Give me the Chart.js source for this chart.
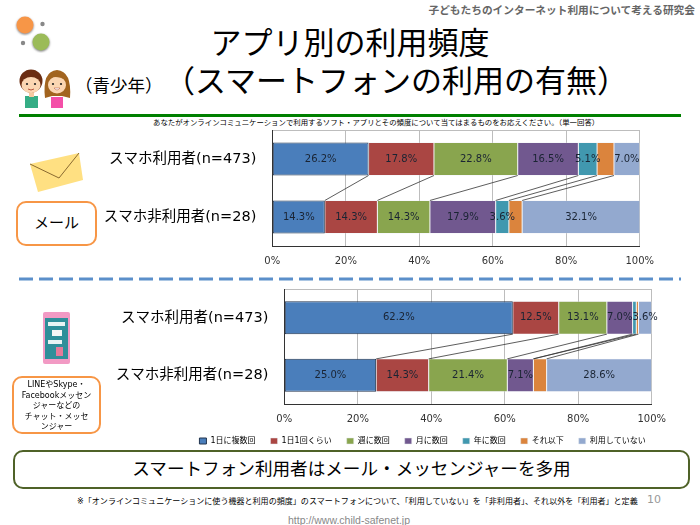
<!DOCTYPE html>
<html lang="ja">
<head>
<meta charset="UTF-8">
<title>アプリ別の利用頻度</title>
<script src="https://cdn.jsdelivr.net/npm/chart.js"></script>
<style>
    html, body { margin: 0; padding: 0; background: #fff; overflow: hidden; }
    body { width: 700px; height: 525px; position: relative; font-family: "DejaVu Sans", "Noto Sans CJK JP", sans-serif; color: #000; }
    .abs { position: absolute; white-space: nowrap; }
    canvas { position: absolute; left: 90px; }
    #mailChart { top: 125px; }
    #chatChart { top: 284px; }
    .title { left: 0; width: 700px; text-align: center; font-size: 31px; line-height: 36px; }
    .box { position: absolute; box-sizing: border-box; border: 2px solid #f79646; border-radius: 10px; text-align: center; background: #fff; }
</style>
</head>
<body>
    <div class="abs" style="right:5px;top:2px;font-size:10.700px;font-weight:bold;color:#666;">子どもたちのインターネット利用について考える研究会</div>

    <svg class="abs" style="left:0;top:0;" width="90" height="115">
        <defs><filter id="sh"><feDropShadow dx="0" dy="1" stdDeviation="1" flood-color="#777"/></filter></defs>
        <circle cx="25" cy="25" r="8.5" fill="#f79646" filter="url(#sh)"/>
        <circle cx="41" cy="42" r="8.5" fill="#9bbb59" filter="url(#sh)"/>
        <circle cx="42.500" cy="24" r="2.200" fill="#888"/>
        <circle cx="23" cy="43" r="2.200" fill="#888"/>
        <!-- boy -->
        <rect x="25" y="96" width="13" height="12" fill="#35ad85"/>
        <rect x="29" y="91" width="5" height="6" fill="#f5c9a0"/>
        <circle cx="31" cy="81" r="11.500" fill="#6b2d12"/>
        <ellipse cx="31" cy="85" rx="9.500" ry="8" fill="#fbd6b3"/>
        <circle cx="27" cy="84" r="1.100" fill="#222"/>
        <circle cx="35" cy="84" r="1.100" fill="#222"/>
        <path d="M28 89 Q31 91 34 89" stroke="#b5533c" fill="none"/>
        <!-- girl -->
        <path d="M45 98 Q42 71 57 70 Q72 71 70 98 L62 96 L52 96 Z" fill="#a2641f"/>
        <rect x="51" y="97" width="12" height="11" fill="#f44fa8"/>
        <ellipse cx="57" cy="85" rx="9" ry="8.500" fill="#fbd6b3"/>
        <path d="M48 82 Q52 73 66 80 Q60 76 56 74 Q50 75 48 82" fill="#a2641f"/>
        <circle cx="53" cy="84" r="1.100" fill="#222"/>
        <circle cx="61" cy="84" r="1.100" fill="#222"/>
        <path d="M54 88 Q57 92 60 88 Z" fill="#fff" stroke="#b5533c" stroke-width="0.5"/>
    </svg>

    <div class="abs title" style="top:25px;">アプリ別の利用頻度</div>
    <div class="abs title" style="top:63px;left:46px;">（スマートフォンの利用の有無）</div>
    <div class="abs" style="left:75px;top:72px;font-size:17.500px;">（青少年）</div>

    <div class="abs" style="left:19px;top:114px;width:662px;height:3px;background:#008000;"></div>
    <div class="abs" style="left:153px;top:116px;font-size:7.400px;">あなたがオンラインコミュニケーションで利用するソフト・アプリとその頻度について当てはまるものをお応えください。（単一回答）</div>

    <canvas id="mailChart" width="610" height="145"></canvas>
    <canvas id="chatChart" width="610" height="171"></canvas>

    <svg class="abs" style="left:20px;top:145px;" width="75" height="55">
        <polygon points="10,19 59,8 63,35 18,47" fill="#ffe082"/>
        <polyline points="10,19 39,33 59,8" fill="none" stroke="#8a6a30" stroke-width="1"/>
    </svg>
    <div class="box" style="left:16px;top:201px;width:81px;height:45px;line-height:41px;font-size:15px;">メール</div>

    <svg class="abs" style="left:0;top:277px;" width="700" height="4">
        <line x1="19" y1="2" x2="681" y2="2" stroke="#5b8fca" stroke-width="3" stroke-dasharray="14 6"/>
    </svg>

    <svg class="abs" style="left:43px;top:312px;" width="27" height="52">
        <rect x="0" y="0" width="27" height="52" rx="2" fill="#f29ac4"/>
        <rect x="2" y="6" width="23" height="41" fill="#2f8f9a"/>
        <rect x="5" y="10" width="17" height="4" fill="#e8f4f4"/>
        <rect x="9" y="18" width="10" height="6" fill="#f6f6f6"/>
        <rect x="5" y="28" width="14" height="4" fill="#e8f4f4"/>
        <rect x="13" y="35" width="7" height="9" fill="#e57a9a"/>
    </svg>
    <div class="box" style="left:12px;top:376px;width:89px;height:58px;font-size:8px;line-height:10.500px;padding-top:2px;">LINEやSkype・<br>Facebookメッセン<br>ジャーなどの<br>チャット・メッセ<br>ンジャー</div>

    <div class="box" style="left:13px;top:450px;width:677px;height:39px;line-height:34px;font-size:17.600px;border:2.500px solid #4f6228;">スマートフォン利用者はメール・メッセンジャーを多用</div>

    <div class="abs" style="left:77px;top:495px;font-size:8.050px;">※「オンラインコミュニケーションに使う機器と利用の頻度」のスマートフォンについて、「利用していない」を「非利用者」、それ以外を「利用者」と定義</div>
    <div class="abs" style="left:647px;top:493px;font-size:11px;color:#999;">10</div>
    <div class="abs" style="left:0;width:698px;text-align:center;top:514px;font-size:10.500px;color:#888;font-family:'Liberation Sans',sans-serif;">http://www.child-safenet.jp</div>

    <script>
        const categories = ["スマホ利用者(n=473)", "スマホ非利用者(n=28)"];
        const seriesNames = ["1日に複数回", "1日1回くらい", "週に数回", "月に数回", "年に数回", "それ以下", "利用していない"];
        const seriesColors = ["#4a7ebb", "#aa4643", "#89a54e", "#71588f", "#4198af", "#db843d", "#93a9cf"];
        const tickValues = [0, 20, 40, 60, 80, 100];

        // one array per row, in series order
        const mailUsers = [26.2, 17.8, 22.8, 16.5, 5.1, 4.6, 7.0];
        const mailNonUsers = [14.3, 14.3, 14.3, 17.9, 3.6, 3.6, 32.1];
        const chatUsers = [62.2, 12.5, 13.1, 7.0, 1.0, 0.6, 3.6];
        const chatNonUsers = [25.0, 14.3, 21.4, 7.1, 0, 3.6, 28.6];

        // series whose values are not printed in the original
        const mailUnlabeled = [5];
        const chatUnlabeled = [4, 5];

        const FONT = '"DejaVu Sans", "Noto Sans CJK JP", sans-serif';

        // values inside the bars
        const barLabels = {
            id: "barLabels",
            afterDatasetsDraw(chart, args, opts) {
                const ctx = chart.ctx;
                ctx.save();
                ctx.font = "10px " + FONT;
                ctx.fillStyle = "#1a2433";
                ctx.textAlign = "center";
                ctx.textBaseline = "middle";
                chart.data.datasets.forEach((ds, i) => {
                    if (opts.skip.includes(i)) return;
                    chart.getDatasetMeta(i).data.forEach((bar, j) => {
                        ctx.fillText(ds.data[j].toFixed(1) + "%", bar.getCenterPoint().x, bar.y);
                    });
                });
                ctx.restore();
            }
        };

        // lines joining the stacks of the two rows
        const seriesLines = {
            id: "seriesLines",
            afterDatasetsDraw(chart) {
                const ctx = chart.ctx;
                ctx.save();
                ctx.strokeStyle = "#333";
                ctx.lineWidth = 0.8;
                for (let i = 0; i < chart.data.datasets.length - 1; i++) {
                    const bars = chart.getDatasetMeta(i).data;
                    ctx.beginPath();
                    ctx.moveTo(bars[0].x, bars[0].y + bars[0].height / 2);
                    ctx.lineTo(bars[1].x, bars[1].y - bars[1].height / 2);
                    ctx.stroke();
                }
                ctx.restore();
            }
        };

        function makeChart(id, rows, unlabeled, plotLeft, xHeight, showLegend) {
            const rightPad = 700 - (plotLeft + 367.4);
            return new Chart(document.getElementById(id), {
                type: "bar",
                data: {
                    labels: categories,
                    datasets: seriesNames.map((name, i) => ({
                        label: name,
                        data: rows.map(r => r[i]),
                        backgroundColor: seriesColors[i],
                        borderColor: i === 0 ? "#22344e" : "#e4e8ee",
                        borderWidth: i === 0 ? 1 : 0.5,
                        borderSkipped: false,
                        categoryPercentage: 1,
                        barPercentage: 0.57
                    }))
                },
                options: {
                    indexAxis: "y",
                    responsive: false,
                    animation: false,
                    // legend follows the smaller layout padding, the plot keeps rightPad
                    layout: { padding: { top: 5, right: rightPad - 9, left: 0, bottom: 0 } },
                    scales: {
                        x: {
                            stacked: true,
                            min: 0,
                            max: 100,
                            afterBuildTicks: axis => { axis.ticks = tickValues.map(v => ({ value: v })); },
                            afterFit: axis => { axis.height = xHeight; axis.paddingRight = rightPad; },
                            grid: { color: "#bdbdbd", drawTicks: false },
                            border: { color: "#333" },
                            ticks: { callback: v => v + "%", font: { size: 10, family: FONT }, color: "#333", padding: 9, maxRotation: 0 }
                        },
                        y: {
                            stacked: true,
                            afterFit: axis => { axis.width = plotLeft - 90; axis.paddingTop = 0; axis.paddingBottom = 0; },
                            grid: { color: c => (c.index === 0 ? "#bdbdbd" : "rgba(0,0,0,0)"), drawTicks: false },
                            border: { color: "#333" },
                            ticks: { font: { size: 14.5, family: FONT }, color: "#000", padding: 16 }
                        }
                    },
                    plugins: {
                        tooltip: { enabled: false },
                        legend: {
                            display: showLegend,
                            position: "bottom",
                            align: "end",
                            labels: { boxWidth: 7, boxHeight: 6, padding: 15, color: "#000", font: { size: 8, family: FONT } }
                        },
                        barLabels: { skip: unlabeled }
                    }
                },
                plugins: [seriesLines, barLabels]
            });
        }

        makeChart("mailChart", [mailUsers, mailNonUsers], mailUnlabeled, 272.3, 24, false);
        makeChart("chatChart", [chatUsers, chatNonUsers], chatUnlabeled, 284.3, 18, true);
    </script>
</body>
</html>
